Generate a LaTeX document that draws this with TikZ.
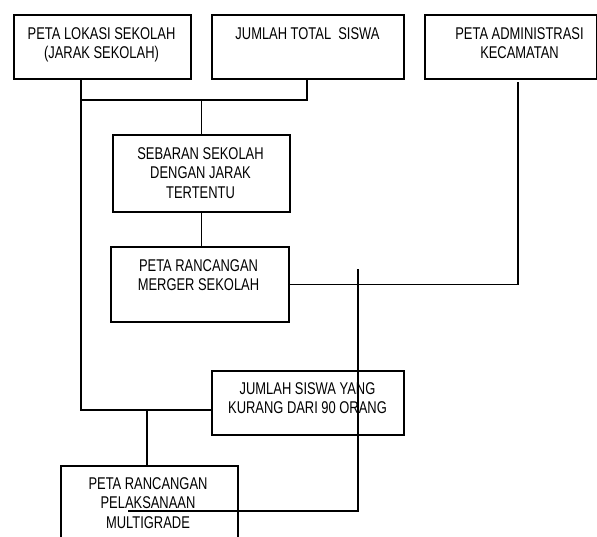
\documentclass[tikz,border=0pt]{standalone}
\usepackage{fontspec}
\newfontfamily\narrowsans[FakeStretch=0.76]{Liberation Sans}
\begin{document}
\begin{tikzpicture}[x=1pt,y=-1pt,
  box/.style={draw=black, line width=1.6pt, fill=white, inner sep=0pt, anchor=north west},
  txt/.style={font=\narrowsans\fontsize{17}{19.5}\selectfont, align=center, inner sep=0pt, anchor=north},
  wire/.style={draw=black, line width=1.5pt},
  thinwire/.style={draw=black, line width=1.2pt}]
\useasboundingbox[fill=white] (0,0) rectangle (597,536);
\clip (0,0) rectangle (597,536);
% boxes
\node[box, minimum width=177pt, minimum height=64pt] (b1) at (13,14) {};
\node[box, minimum width=192pt, minimum height=64pt] (b2) at (211,14) {};
\node[box, minimum width=172pt, minimum height=64pt] (b3) at (424,14) {};
\node[box, minimum width=177pt, minimum height=77pt] (b4) at (112,134) {};
\node[box, minimum width=178pt, minimum height=75pt] (b5) at (110,246) {};
\node[box, minimum width=192pt, minimum height=64pt] (b6) at (211,370) {};
\node[box, minimum width=177pt, minimum height=90pt] (b7) at (60,465) {};
% texts
\node[txt] (t1) at (101.5,27) {PETA LOKASI SEKOLAH\\(JARAK SEKOLAH)};
\node[txt] (t2) at (307.5,27) {JUMLAH TOTAL\ \ SISWA};
\node[txt] (t3) at (519.5,27) {PETA ADMINISTRASI\\KECAMATAN};
\node[txt] (t4) at (200.5,147) {SEBARAN SEKOLAH\\DENGAN JARAK\\TERTENTU};
\node[txt] (t5) at (198.5,259) {PETA RANCANGAN\\MERGER SEKOLAH};
\node[txt] (t6) at (307.5,382) {JUMLAH SISWA YANG\\KURANG DARI 90 ORANG};
\node[txt] (t7) at (148,477) {PETA RANCANGAN\\PELAKSANAAN\\MULTIGRADE};
% junctions
\coordinate (j1) at (81,100);
\coordinate (j2) at (307,100);
\coordinate (j3) at (81,410);
\coordinate (j4) at (147,410);
\coordinate (j5) at (518,82);
\coordinate (c1) at (358,269);
\coordinate (c2) at (358,511);
\coordinate (c3) at (128,511);
% connectors
\draw[wire] (b1.south -| j1) -- (j3) -- (j3 -| b6.west);
\draw[wire] (j1) -- (j2) -- (j2 |- b2.south);
\draw[wire] (j1 -| b4.north) -- (b4.north);
\draw[wire] (b4.south) -- (b4.south |- b5.north);
\draw[wire] (b5.east) -| (j5);
\draw[wire] (j4) -- (j4 |- b7.north);
\draw[thinwire] (c1) -- (c2) -- (c3);
\end{tikzpicture}
\end{document}
